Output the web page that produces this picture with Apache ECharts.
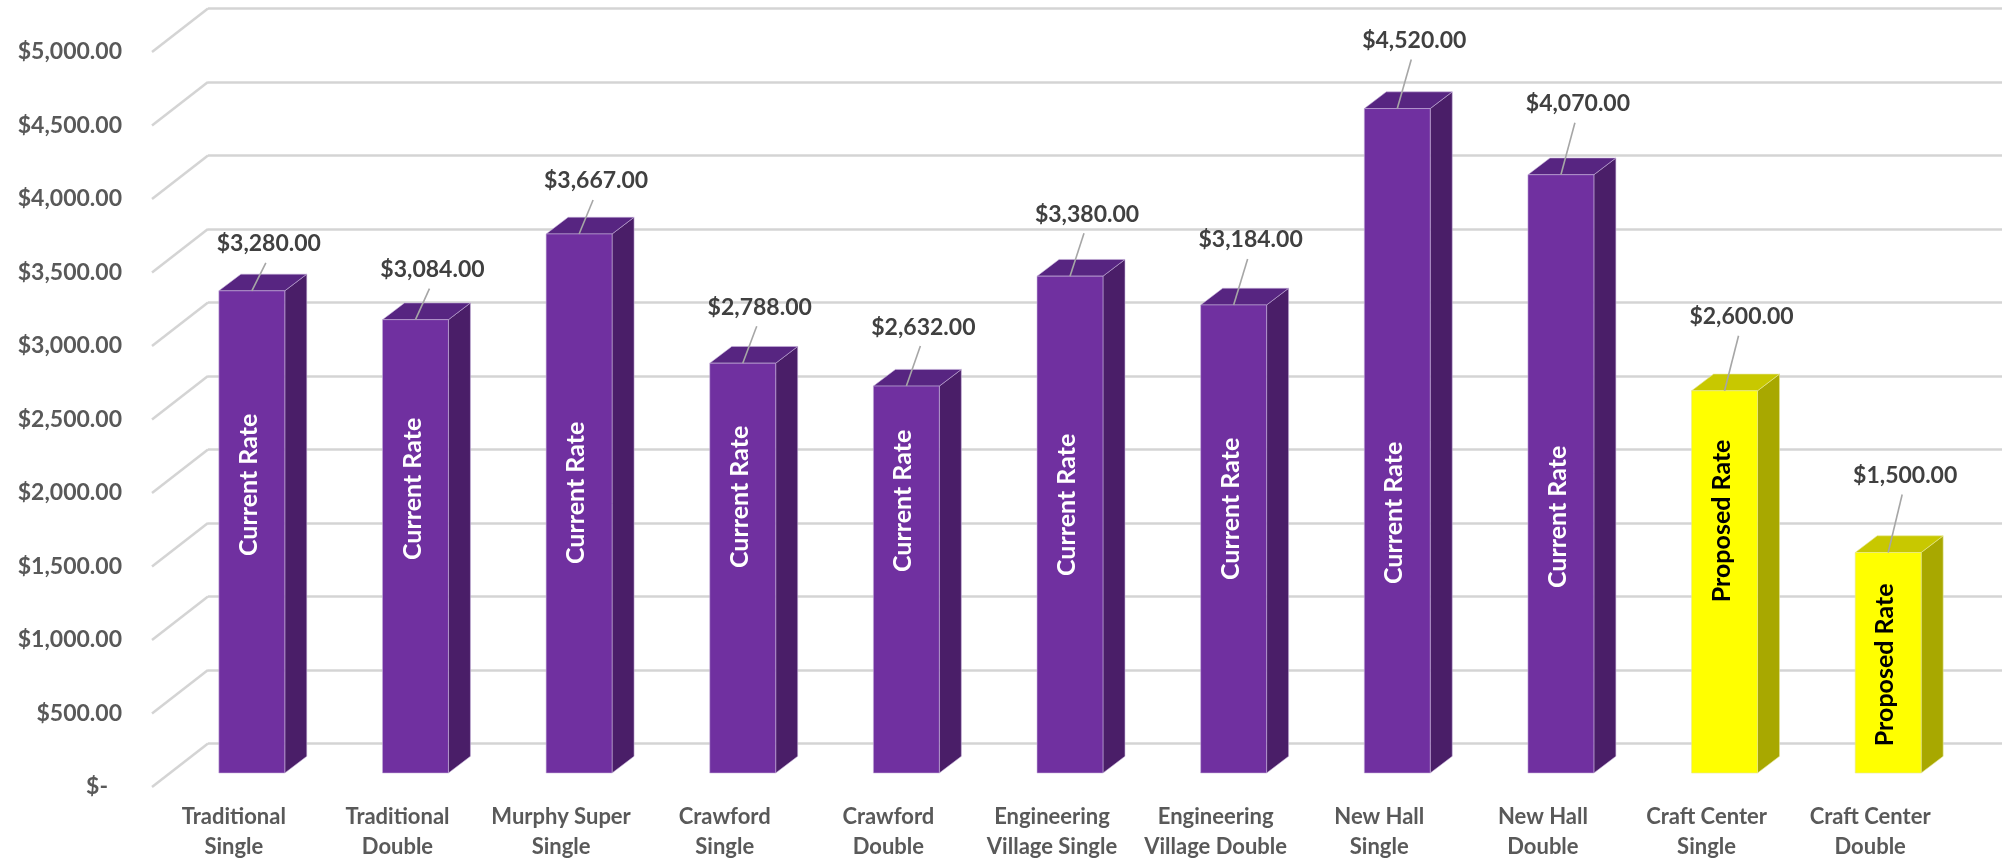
<!DOCTYPE html>
<html>
<head>
<meta charset="utf-8">
<title>Room Rates</title>
<script src="https://cdn.jsdelivr.net/npm/echarts@6/dist/echarts.min.js"></script>
<style>
  html, body { margin: 0; padding: 0; background: #ffffff; }
  #chart { width: 2002px; height: 863px; }
</style>
</head>
<body>
<div id="chart"></div>
<script>
// Halls and their yearly rates
const categories = [
  'Traditional\nSingle', 'Traditional\nDouble', 'Murphy Super\nSingle',
  'Crawford\nSingle', 'Crawford\nDouble', 'Engineering\nVillage Single',
  'Engineering\nVillage Double', 'New Hall\nSingle', 'New Hall\nDouble',
  'Craft Center\nSingle', 'Craft Center\nDouble'
];
const currentRate = [3280, 3084, 3667, 2788, 2632, 3380, 3184, 4520, 4070, null, null];
const proposedRate = [null, null, null, null, null, null, null, null, null, 2600, 1500];
const valueTicks = [0, 500, 1000, 1500, 2000, 2500, 3000, 3500, 4000, 4500, 5000];

const FONT = 'Lato, "Noto Sans", sans-serif';

// Oblique 3D projection: the front plane is grid 0, the back wall is grid 1
const WALL_DX = 56, WALL_DY = -43.5;        // front edge -> back wall
const BAR_DX = 18, BAR_DY = -14;            // front edge -> bar front face
const BAR_DEPTH_X = 22, BAR_DEPTH_Y = -16.7; // bar front face -> bar back face
const BAR_WIDTH_RATIO = 0.403;
const INSIDE_LABEL_VALUE = 1960;

const GRID_LEFT = 152, GRID_RIGHT = 50, GRID_TOP = 52, GRID_BOTTOM = 76;
const GRID_COLOR = '#D4D4D4';

function money(v) {
  return '$' + v.toLocaleString('en-US', { minimumFractionDigits: 2, maximumFractionDigits: 2 });
}

const measureCtx = document.createElement('canvas').getContext('2d');
function textWidth(text, font) {
  measureCtx.font = font;
  return measureCtx.measureText(text).width;
}

function toPairs(values) {
  return values.map((v, i) => (v == null ? null : [i, v])).filter(Boolean);
}

function barRenderer(faces, insideText, insideColor) {
  return function (params, api) {
    const idx = api.value(0);
    const v = api.value(1);
    const base = api.coord([idx, 0]);
    const top = api.coord([idx, v]);
    const w = api.size([1, 0])[0] * BAR_WIDTH_RATIO;
    const cx = base[0] + BAR_DX;
    const x0 = cx - w / 2, x1 = cx + w / 2;
    const yb = base[1] + BAR_DY, yt = top[1] + BAR_DY;
    const dx = BAR_DEPTH_X, dy = BAR_DEPTH_Y;

    // value callout above the bar, with its leader line
    const lift = 47 + 3 * idx;
    const ly = yt - lift;

    // rotated series name inside the bar
    const insideFont = 'bold 25px ' + FONT;
    const half = textWidth(insideText, insideFont) / 2;
    const iy = Math.max(api.coord([idx, INSIDE_LABEL_VALUE])[1] + BAR_DY + 4 * idx, yt + half + 31);

    return {
      type: 'group',
      children: [
        { type: 'polygon', shape: { points: [[x1, yt], [x1 + dx, yt + dy], [x1 + dx, yb + dy], [x1, yb]] },
          style: { fill: faces.side, stroke: faces.edge, lineWidth: 1 } },
        { type: 'polygon', shape: { points: [[x0, yt], [x1, yt], [x1 + dx, yt + dy], [x0 + dx, yt + dy]] },
          style: { fill: faces.top, stroke: faces.edge, lineWidth: 1 } },
        { type: 'rect', shape: { x: x0, y: yt, width: w, height: yb - yt },
          style: { fill: faces.front, stroke: faces.edge, lineWidth: 1 } },
        { type: 'text', x: cx - 3, y: iy, rotation: Math.PI / 2,
          style: { text: insideText, font: insideFont, fill: insideColor, align: 'center', verticalAlign: 'middle' } },
        { type: 'line', shape: { x1: cx, y1: yt, x2: cx + 14, y2: ly + 19 },
          style: { stroke: '#A6A6A6', lineWidth: 1.6 } },
        { type: 'text', x: cx + 17, y: ly,
          style: { text: money(v), font: 'bold 23px ' + FONT, fill: '#404040', align: 'center', verticalAlign: 'middle' } }
      ]
    };
  };
}

// diagonal gridlines on the left side wall
function sideWallRenderer(params, api) {
  const y = api.coord([0, api.value(1)])[1];
  const x = params.coordSys.x;
  return {
    type: 'line',
    shape: { x1: x, y1: y, x2: x + WALL_DX, y2: y + WALL_DY },
    style: { stroke: GRID_COLOR, lineWidth: 2.5 }
  };
}

const axisText = { color: '#595959', fontSize: 23, fontWeight: 'bold', fontFamily: FONT };

const chart = echarts.init(document.getElementById('chart'), null, { renderer: 'canvas' });
chart.setOption({
  animation: false,
  backgroundColor: '#ffffff',
  grid: [
    { left: GRID_LEFT, right: GRID_RIGHT, top: GRID_TOP, bottom: GRID_BOTTOM },
    { left: GRID_LEFT + WALL_DX, right: 0, top: GRID_TOP + WALL_DY, bottom: GRID_BOTTOM - WALL_DY }
  ],
  xAxis: [
    {
      gridIndex: 0, type: 'category', data: categories,
      axisLine: { show: false }, axisTick: { show: false },
      axisLabel: {
        interval: 0, margin: 15, lineHeight: 30,
        color: '#595959', fontSize: 22, fontWeight: 'bold', fontFamily: FONT
      }
    },
    { gridIndex: 1, type: 'category', data: categories, show: false }
  ],
  yAxis: [
    {
      gridIndex: 0, type: 'value', min: valueTicks[0], max: valueTicks[valueTicks.length - 1], interval: 500,
      axisLine: { show: false }, axisTick: { show: false }, splitLine: { show: false },
      axisLabel: Object.assign({
        margin: 30,
        formatter: v => (v === 0 ? '{z|$-}' : money(v)),
        rich: { z: Object.assign({ padding: [0, 14, 0, 0] }, axisText) }
      }, axisText)
    },
    {
      gridIndex: 1, type: 'value', min: valueTicks[0], max: valueTicks[valueTicks.length - 1], interval: 500,
      axisLine: { show: false }, axisTick: { show: false }, axisLabel: { show: false },
      splitLine: { show: true, lineStyle: { color: GRID_COLOR, width: 2.5 } }
    }
  ],
  series: [
    {
      name: 'side wall', type: 'custom', xAxisIndex: 0, yAxisIndex: 0, silent: true,
      data: valueTicks.map(v => [0, v]), encode: { x: 0, y: 1 },
      renderItem: sideWallRenderer, z: 1
    },
    {
      name: 'Current Rate', type: 'custom', xAxisIndex: 0, yAxisIndex: 0,
      data: toPairs(currentRate), encode: { x: 0, y: 1 },
      renderItem: barRenderer({ front: '#7030A0', side: '#4A1E68', top: '#572581', edge: 'rgba(200,180,220,0.55)' },
        'Current Rate', '#ffffff'),
      z: 3
    },
    {
      name: 'Proposed Rate', type: 'custom', xAxisIndex: 0, yAxisIndex: 0,
      data: toPairs(proposedRate), encode: { x: 0, y: 1 },
      renderItem: barRenderer({ front: '#FFFF00', side: '#A8A800', top: '#C8C800', edge: 'rgba(230,230,150,0.6)' },
        'Proposed Rate', '#000000'),
      z: 3
    }
  ]
});
</script>
</body>
</html>
